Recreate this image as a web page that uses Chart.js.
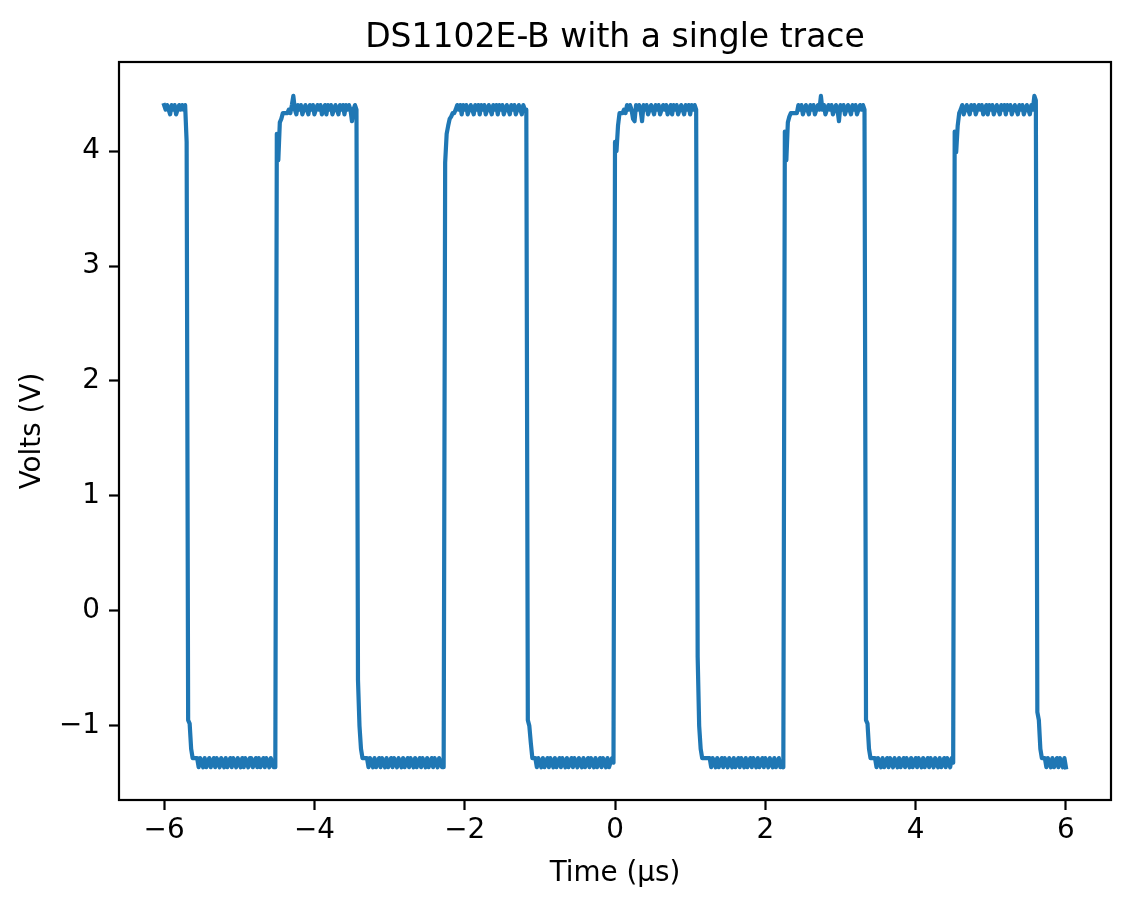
<!DOCTYPE html>
<html>
<head>
<meta charset="utf-8">
<title>DS1102E-B with a single trace</title>
<script src="https://cdn.jsdelivr.net/npm/chart.js@4/dist/chart.umd.min.js"></script>
<style>
  body { margin: 0; background: #fff; }
  #wrap { width: 1131px; height: 908px; }
</style>
</head>
<body>
<div id="wrap"><canvas id="scope" width="1131" height="908"></canvas></div>
<script>
// scope capture: one sample every 0.02 us starting at -6 us
const sampleStartUs = -6;
const sampleStepUs = 0.02;

// volts (601 samples)
const voltage = [
  4.40, 4.36, 4.40, 4.36, 4.32, 4.40, 4.36, 4.40, 4.32, 4.36,
  4.40, 4.36, 4.40, 4.36, 4.40, 4.08, -0.95, -0.98, -1.20, -1.28,
  -1.28, -1.28, -1.28, -1.36, -1.28, -1.32, -1.36, -1.28, -1.36, -1.32,
  -1.28, -1.36, -1.32, -1.28, -1.36, -1.28, -1.32, -1.36, -1.28, -1.32,
  -1.36, -1.28, -1.36, -1.32, -1.28, -1.36, -1.28, -1.32, -1.36, -1.28,
  -1.32, -1.36, -1.28, -1.36, -1.28, -1.32, -1.36, -1.28, -1.28, -1.36,
  -1.32, -1.28, -1.36, -1.28, -1.36, -1.32, -1.28, -1.36, -1.28, -1.32,
  -1.36, -1.28, -1.32, -1.36, -1.36, 4.15, 3.92, 4.25, 4.28, 4.33,
  4.33, 4.33, 4.33, 4.36, 4.33, 4.40, 4.48, 4.36, 4.32, 4.40,
  4.36, 4.40, 4.32, 4.36, 4.40, 4.36, 4.32, 4.40, 4.36, 4.40,
  4.32, 4.36, 4.40, 4.36, 4.40, 4.32, 4.36, 4.40, 4.32, 4.40,
  4.36, 4.40, 4.32, 4.36, 4.40, 4.36, 4.32, 4.40, 4.36, 4.40,
  4.32, 4.40, 4.36, 4.40, 4.36, 4.26, 4.36, 4.40, 4.36, -0.60,
  -1.00, -1.20, -1.28, -1.28, -1.28, -1.28, -1.36, -1.28, -1.32, -1.36,
  -1.28, -1.36, -1.32, -1.28, -1.36, -1.28, -1.32, -1.36, -1.28, -1.36,
  -1.32, -1.28, -1.36, -1.28, -1.32, -1.36, -1.28, -1.32, -1.36, -1.28,
  -1.36, -1.32, -1.28, -1.36, -1.28, -1.32, -1.36, -1.28, -1.36, -1.32,
  -1.28, -1.36, -1.28, -1.32, -1.36, -1.28, -1.36, -1.32, -1.28, -1.36,
  -1.28, -1.32, -1.36, -1.28, -1.32, -1.36, -1.36, 3.90, 4.15, 4.22,
  4.28, 4.30, 4.33, 4.33, 4.36, 4.40, 4.36, 4.40, 4.32, 4.40,
  4.36, 4.40, 4.32, 4.36, 4.40, 4.36, 4.32, 4.40, 4.36, 4.40,
  4.32, 4.40, 4.36, 4.40, 4.32, 4.36, 4.40, 4.36, 4.32, 4.40,
  4.36, 4.40, 4.32, 4.40, 4.36, 4.40, 4.32, 4.36, 4.40, 4.36,
  4.32, 4.40, 4.36, 4.40, 4.32, 4.36, 4.40, 4.36, 4.32, 4.40,
  4.36, 4.36, -0.95, -1.00, -1.15, -1.28, -1.28, -1.28, -1.36, -1.28,
  -1.32, -1.36, -1.28, -1.36, -1.32, -1.28, -1.36, -1.28, -1.32, -1.36,
  -1.28, -1.36, -1.32, -1.28, -1.36, -1.28, -1.32, -1.36, -1.28, -1.36,
  -1.32, -1.28, -1.36, -1.28, -1.32, -1.36, -1.28, -1.32, -1.36, -1.28,
  -1.36, -1.32, -1.28, -1.36, -1.28, -1.32, -1.36, -1.28, -1.36, -1.32,
  -1.28, -1.36, -1.28, -1.32, -1.36, -1.28, -1.36, -1.32, -1.28, -1.32,
  4.08, 4.00, 4.22, 4.33, 4.33, 4.33, 4.36, 4.33, 4.40, 4.36,
  4.40, 4.36, 4.28, 4.26, 4.40, 4.36, 4.40, 4.36, 4.26, 4.40,
  4.36, 4.40, 4.32, 4.36, 4.40, 4.36, 4.32, 4.40, 4.36, 4.40,
  4.32, 4.36, 4.40, 4.36, 4.40, 4.32, 4.36, 4.40, 4.32, 4.40,
  4.36, 4.40, 4.32, 4.36, 4.40, 4.36, 4.32, 4.40, 4.36, 4.40,
  4.32, 4.40, 4.36, 4.40, 4.36, -0.40, -1.00, -1.20, -1.28, -1.28,
  -1.28, -1.28, -1.28, -1.28, -1.36, -1.28, -1.32, -1.36, -1.28, -1.36,
  -1.32, -1.28, -1.36, -1.28, -1.32, -1.36, -1.28, -1.32, -1.36, -1.28,
  -1.36, -1.32, -1.28, -1.36, -1.28, -1.32, -1.36, -1.28, -1.36, -1.32,
  -1.28, -1.36, -1.28, -1.32, -1.36, -1.28, -1.36, -1.32, -1.28, -1.36,
  -1.28, -1.32, -1.36, -1.28, -1.32, -1.36, -1.28, -1.36, -1.32, -1.28,
  -1.36, -1.32, -1.36, 4.17, 3.92, 4.25, 4.30, 4.33, 4.33, 4.33,
  4.33, 4.33, 4.40, 4.36, 4.40, 4.32, 4.36, 4.40, 4.36, 4.32,
  4.40, 4.36, 4.40, 4.32, 4.36, 4.40, 4.36, 4.48, 4.36, 4.40,
  4.32, 4.36, 4.40, 4.36, 4.40, 4.32, 4.36, 4.40, 4.36, 4.26,
  4.40, 4.36, 4.40, 4.32, 4.36, 4.40, 4.36, 4.32, 4.40, 4.36,
  4.40, 4.32, 4.36, 4.40, 4.36, 4.40, 4.36, -0.95, -0.98, -1.20,
  -1.28, -1.28, -1.28, -1.28, -1.36, -1.28, -1.32, -1.36, -1.28, -1.36,
  -1.32, -1.28, -1.36, -1.28, -1.32, -1.36, -1.28, -1.32, -1.36, -1.28,
  -1.36, -1.32, -1.28, -1.36, -1.28, -1.32, -1.36, -1.28, -1.36, -1.32,
  -1.28, -1.36, -1.28, -1.32, -1.36, -1.28, -1.36, -1.32, -1.28, -1.36,
  -1.28, -1.32, -1.36, -1.28, -1.32, -1.36, -1.28, -1.36, -1.32, -1.28,
  -1.36, -1.28, -1.32, -1.36, -1.28, -1.32, 4.17, 3.99, 4.22, 4.33,
  4.36, 4.40, 4.32, 4.36, 4.40, 4.36, 4.32, 4.40, 4.36, 4.40,
  4.32, 4.36, 4.40, 4.36, 4.40, 4.32, 4.36, 4.40, 4.32, 4.40,
  4.36, 4.40, 4.32, 4.36, 4.40, 4.36, 4.32, 4.40, 4.36, 4.40,
  4.32, 4.40, 4.36, 4.40, 4.32, 4.36, 4.40, 4.36, 4.32, 4.40,
  4.36, 4.40, 4.32, 4.36, 4.40, 4.36, 4.32, 4.40, 4.36, 4.48,
  4.44, -0.88, -0.95, -1.20, -1.28, -1.28, -1.28, -1.36, -1.28, -1.32,
  -1.36, -1.28, -1.36, -1.32, -1.28, -1.36, -1.28, -1.32, -1.36, -1.28,
  -1.36
];

const xTicks = [-6, -4, -2, 0, 2, 4, 6];
const yTicks = [-1, 0, 1, 2, 3, 4];
const chartTitle = 'DS1102E-B with a single trace';

var points = [];
for (let i = 0; i < voltage.length; i++) {
    points.push({ x: sampleStartUs + i * sampleStepUs, y: voltage[i] });
}

// matplotlib style minus sign
function fmt(v) {
    return v < 0 ? '\u2212' + Math.abs(v) : String(v);
}

// box round the plot area + title centred over the axes (not the canvas)
const frame = {
    id: 'frame',
    afterDraw(chart) {
        const a = chart.chartArea;
        const c = chart.ctx;
        c.save();
        c.strokeStyle = '#000';
        c.lineWidth = 2.2;
        c.strokeRect(a.left, a.top, a.right - a.left, a.bottom - a.top);
        c.fillStyle = '#000';
        c.font = "33px 'DejaVu Sans', sans-serif";
        c.textAlign = 'center';
        c.textBaseline = 'alphabetic';
        c.fillText(chartTitle, (a.left + a.right) / 2, 47);
        c.restore();
    }
};

Chart.defaults.font.family = "'DejaVu Sans', sans-serif";
Chart.defaults.color = '#000';

var ctx = document.getElementById('scope').getContext('2d');
var scopeChart = new Chart(ctx, {
    type: 'line',
    data: {
        datasets: [{
            data: points,
            borderColor: '#1f77b4',
            borderWidth: 4.2,
            borderJoinStyle: 'round',
            borderCapStyle: 'square',
            pointRadius: 0,
            tension: 0,
            fill: false
        }]
    },
    options: {
        responsive: false,
        animation: false,
        parsing: false,
        layout: { padding: { left: 0, right: 20, top: 62, bottom: 0 } },
        plugins: {
            legend: { display: false },
            tooltip: { enabled: false },
            title: { display: false }
        },
        scales: {
            x: {
                type: 'linear',
                min: -6.6,
                max: 6.6,
                afterBuildTicks: function(axis) {
                    axis.ticks = xTicks.map(v => ({ value: v }));
                },
                afterFit: function(axis) { axis.height = 108; },
                grid: { drawOnChartArea: false, drawTicks: true, tickLength: 10, tickWidth: 2.2, tickColor: '#000' },
                border: { display: false },
                ticks: {
                    padding: 4,
                    maxRotation: 0,
                    font: { size: 27.8 },
                    color: '#000',
                    callback: v => fmt(v)
                },
                title: {
                    display: true,
                    text: 'Time (\u00b5s)',
                    color: '#000',
                    font: { size: 27.8 },
                    padding: { top: 0, bottom: 18 }
                }
            },
            y: {
                type: 'linear',
                min: -1.645,
                max: 4.775,
                afterBuildTicks: function(axis) {
                    axis.ticks = yTicks.map(v => ({ value: v }));
                },
                afterFit: function(axis) { axis.width = 119; },
                grid: { drawOnChartArea: false, drawTicks: true, tickLength: 10, tickWidth: 2.2, tickColor: '#000' },
                border: { display: false },
                ticks: {
                    padding: 9,
                    font: { size: 27.8 },
                    color: '#000',
                    callback: v => fmt(v)
                },
                title: {
                    display: true,
                    text: 'Volts (V)',
                    color: '#000',
                    font: { size: 27.8 },
                    padding: { top: 16, bottom: 0 }
                }
            }
        }
    },
    plugins: [frame]
});
</script>
</body>
</html>
